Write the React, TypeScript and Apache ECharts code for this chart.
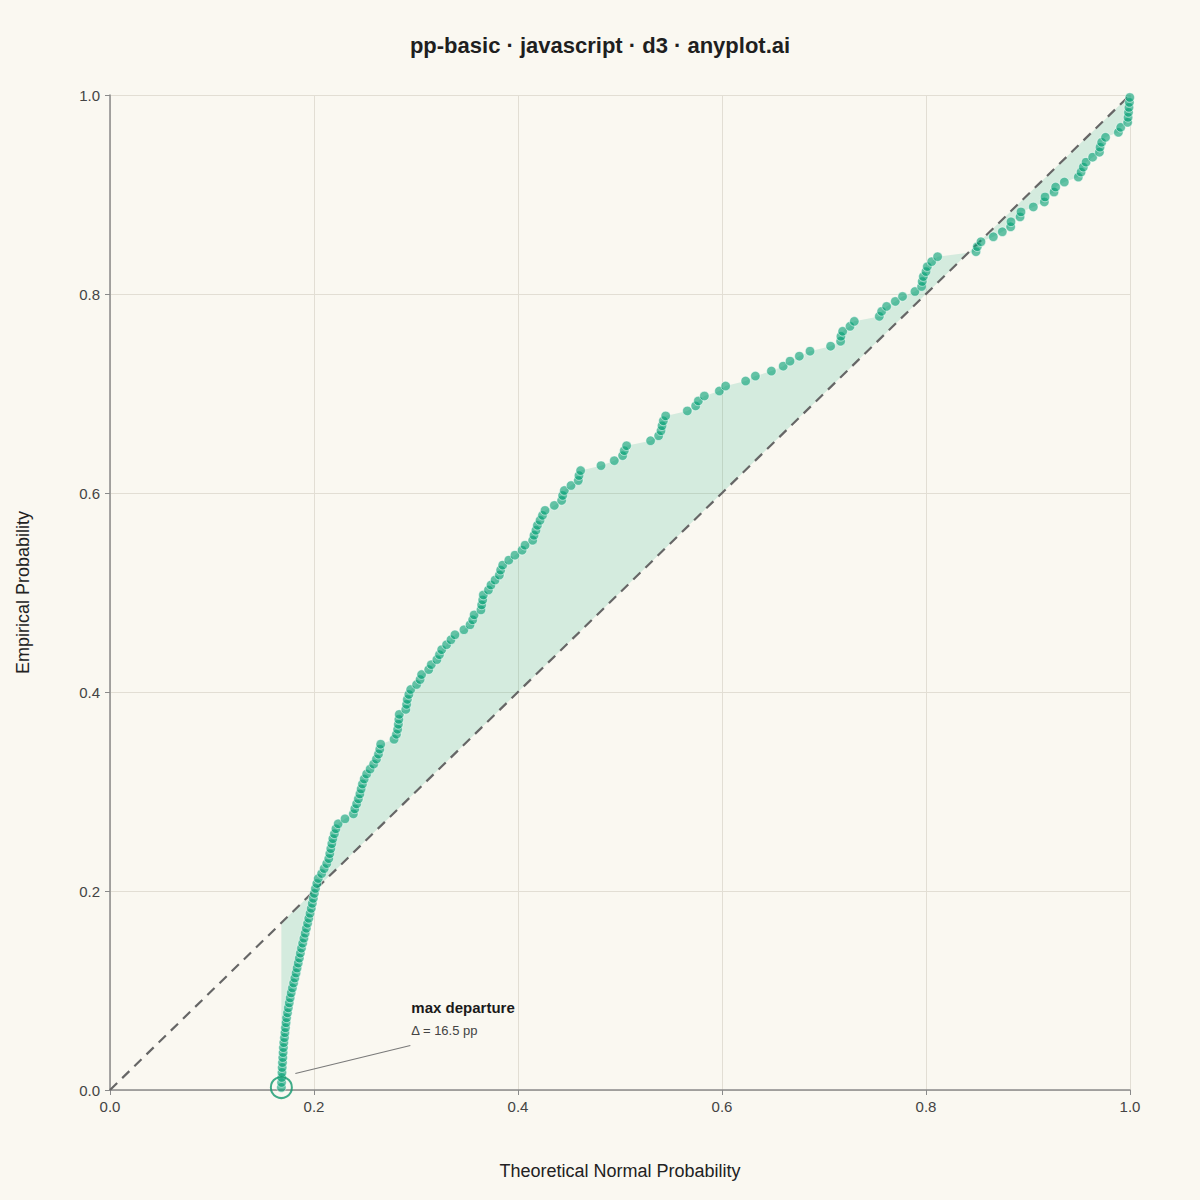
import React, { useEffect, useRef } from "react";
import * as echarts from "echarts";

const chartTitle = "pp-basic · javascript · d3 · anyplot.ai";
const xAxisName = "Theoretical Normal Probability";
const yAxisName = "Empirical Probability";
const tickValues = [0, 0.2, 0.4, 0.6, 0.8, 1.0];
const annotationTitle = "max departure";
const annotationValue = "Δ = 16.5 pp";

const theoretical = [
  0.1680, 0.1682, 0.1684, 0.1686, 0.1688, 0.1691, 0.1694, 0.1697, 0.1700, 0.1704,
  0.1710, 0.1715, 0.1720, 0.1726, 0.1731, 0.1740, 0.1748, 0.1757, 0.1766, 0.1776,
  0.1788, 0.1800, 0.1812, 0.1824, 0.1834, 0.1845, 0.1856, 0.1866, 0.1877, 0.1889,
  0.1901, 0.1913, 0.1925, 0.1937, 0.1949, 0.1961, 0.1973, 0.1983, 0.1993, 0.2003,
  0.2014, 0.2028, 0.2042, 0.2075, 0.2100, 0.2125, 0.2145, 0.2155, 0.2165, 0.2175,
  0.2185, 0.2200, 0.2215, 0.2237, 0.2304, 0.2386, 0.2400, 0.2418, 0.2435, 0.2450,
  0.2462, 0.2475, 0.2492, 0.2516, 0.2550, 0.2585, 0.2612, 0.2632, 0.2645, 0.2654,
  0.2785, 0.2808, 0.2820, 0.2827, 0.2832, 0.2836, 0.2900, 0.2908, 0.2915, 0.2930,
  0.2948, 0.3006, 0.3040, 0.3055, 0.3125, 0.3150, 0.3205, 0.3230, 0.3252, 0.3300,
  0.3343, 0.3382, 0.3470, 0.3530, 0.3556, 0.3570, 0.3637, 0.3644, 0.3654, 0.3660,
  0.3710, 0.3735, 0.3775, 0.3817, 0.3830, 0.3850, 0.3910, 0.3970, 0.4040, 0.4069,
  0.4144, 0.4157, 0.4176, 0.4190, 0.4216, 0.4240, 0.4265, 0.4356, 0.4428, 0.4438,
  0.4454, 0.4520, 0.4591, 0.4598, 0.4614, 0.4814, 0.4944, 0.5026, 0.5042, 0.5065,
  0.5300, 0.5379, 0.5402, 0.5412, 0.5425, 0.5448, 0.5660, 0.5742, 0.5768, 0.5827,
  0.5974, 0.6036, 0.6232, 0.6327, 0.6484, 0.6600, 0.6667, 0.6758, 0.6863, 0.7065,
  0.7163, 0.7166, 0.7183, 0.7255, 0.7297, 0.7542, 0.7565, 0.7614, 0.7699, 0.7770,
  0.7892, 0.7957, 0.7963, 0.7974, 0.8000, 0.8013, 0.8056, 0.8114, 0.8490, 0.8503,
  0.8539, 0.8660, 0.8748, 0.8830, 0.8833, 0.8922, 0.8931, 0.9052, 0.9160, 0.9167,
  0.9255, 0.9271, 0.9356, 0.9493, 0.9520, 0.9542, 0.9569, 0.9634, 0.9700, 0.9706,
  0.9722, 0.9760, 0.9886, 0.9909, 0.9977, 0.9981, 0.9985, 0.9990, 0.9994, 0.9998,
];

// Empirical probability of each sorted observation
const empirical = [
  0.0025, 0.0075, 0.0125, 0.0175, 0.0225, 0.0275, 0.0325, 0.0375, 0.0425, 0.0475,
  0.0525, 0.0575, 0.0625, 0.0675, 0.0725, 0.0775, 0.0825, 0.0875, 0.0925, 0.0975,
  0.1025, 0.1075, 0.1125, 0.1175, 0.1225, 0.1275, 0.1325, 0.1375, 0.1425, 0.1475,
  0.1525, 0.1575, 0.1625, 0.1675, 0.1725, 0.1775, 0.1825, 0.1875, 0.1925, 0.1975,
  0.2025, 0.2075, 0.2125, 0.2175, 0.2225, 0.2275, 0.2325, 0.2375, 0.2425, 0.2475,
  0.2525, 0.2575, 0.2625, 0.2675, 0.2725, 0.2775, 0.2825, 0.2875, 0.2925, 0.2975,
  0.3025, 0.3075, 0.3125, 0.3175, 0.3225, 0.3275, 0.3325, 0.3375, 0.3425, 0.3475,
  0.3525, 0.3575, 0.3625, 0.3675, 0.3725, 0.3775, 0.3825, 0.3875, 0.3925, 0.3975,
  0.4025, 0.4075, 0.4125, 0.4175, 0.4225, 0.4275, 0.4325, 0.4375, 0.4425, 0.4475,
  0.4525, 0.4575, 0.4625, 0.4675, 0.4725, 0.4775, 0.4825, 0.4875, 0.4925, 0.4975,
  0.5025, 0.5075, 0.5125, 0.5175, 0.5225, 0.5275, 0.5325, 0.5375, 0.5425, 0.5475,
  0.5525, 0.5575, 0.5625, 0.5675, 0.5725, 0.5775, 0.5825, 0.5875, 0.5925, 0.5975,
  0.6025, 0.6075, 0.6125, 0.6175, 0.6225, 0.6275, 0.6325, 0.6375, 0.6425, 0.6475,
  0.6525, 0.6575, 0.6625, 0.6675, 0.6725, 0.6775, 0.6825, 0.6875, 0.6925, 0.6975,
  0.7025, 0.7075, 0.7125, 0.7175, 0.7225, 0.7275, 0.7325, 0.7375, 0.7425, 0.7475,
  0.7525, 0.7575, 0.7625, 0.7675, 0.7725, 0.7775, 0.7825, 0.7875, 0.7925, 0.7975,
  0.8025, 0.8075, 0.8125, 0.8175, 0.8225, 0.8275, 0.8325, 0.8375, 0.8425, 0.8475,
  0.8525, 0.8575, 0.8625, 0.8675, 0.8725, 0.8775, 0.8825, 0.8875, 0.8925, 0.8975,
  0.9025, 0.9075, 0.9125, 0.9175, 0.9225, 0.9275, 0.9325, 0.9375, 0.9425, 0.9475,
  0.9525, 0.9575, 0.9625, 0.9675, 0.9725, 0.9775, 0.9825, 0.9875, 0.9925, 0.9975,
];

const referenceLine = [
  [0, 0],
  [1, 1],
];

const FONT = '"Liberation Sans", Arial, Helvetica, sans-serif';

export default function App() {
  const ref = useRef<HTMLDivElement>(null);

  useEffect(() => {
    document.body.style.margin = "0";
    if (!ref.current) return;
    const chart = echarts.init(ref.current, undefined, { renderer: "svg" });

    const points = theoretical.map((x, i) => [x, empirical[i]]);

    // point of maximum departure from the diagonal
    let maxIdx = 0;
    let maxDev = -1;
    theoretical.forEach((x, i) => {
      const d = Math.abs(x - empirical[i]);
      if (d > maxDev) {
        maxDev = d;
        maxIdx = i;
      }
    });
    const maxPoint = [theoretical[maxIdx], empirical[maxIdx]];

    const axisCommon = {
      type: "value" as const,
      min: 0,
      max: 1,
      interval: 0.2,
      axisLine: { show: true, lineStyle: { color: "#8a8a8a", width: 1.5 } },
      axisTick: { show: true, length: 5, lineStyle: { color: "#8a8a8a", width: 1 } },
      splitLine: { show: true, lineStyle: { color: "#e2ded4", width: 1 } },
      axisLabel: {
        fontSize: 15,
        color: "#444444",
        fontFamily: FONT,
        formatter: (v: number) =>
          tickValues.some((t) => Math.abs(t - v) < 1e-9) ? v.toFixed(1) : "",
      },
      nameLocation: "middle" as const,
      nameTextStyle: { fontSize: 18, color: "#222222", fontFamily: FONT },
    };

    chart.setOption({
      animation: false,
      backgroundColor: "#FAF8F1",
      title: {
        text: chartTitle,
        left: "center",
        top: 29,
        textStyle: { fontSize: 22, fontWeight: "bold", color: "#1f1f1f", fontFamily: FONT },
      },
      grid: {
        left: 110,
        right: 70,
        top: 95,
        bottom: 110,
        containLabel: false,
        outerBoundsMode: "none",
      },
      xAxis: {
        ...axisCommon,
        name: xAxisName,
        nameGap: 72,
        axisLabel: { ...axisCommon.axisLabel, margin: 9 },
      },
      yAxis: {
        ...axisCommon,
        name: yAxisName,
        nameGap: 78,
        axisLabel: { ...axisCommon.axisLabel, margin: 10 },
      },
      series: [
        {
          type: "custom",
          name: "departure",
          coordinateSystem: "cartesian2d",
          silent: true,
          z: 1,
          data: [[0.5, 0.5]],
          renderItem: (_params: any, api: any) => {
            const poly: number[][] = [];
            for (let i = 0; i < theoretical.length; i++) {
              poly.push(api.coord([theoretical[i], empirical[i]]));
            }
            for (let i = theoretical.length - 1; i >= 0; i--) {
              poly.push(api.coord([theoretical[i], theoretical[i]]));
            }
            return {
              type: "polygon",
              shape: { points: poly },
              style: { fill: "rgba(0,158,115,0.15)", stroke: "none" },
            };
          },
        },
        {
          type: "line",
          name: "reference",
          data: referenceLine,
          symbol: "none",
          silent: true,
          z: 2,
          lineStyle: { color: "#666666", width: 2.2, type: [10, 7] },
        },
        {
          type: "scatter",
          name: "observations",
          data: points,
          symbol: "circle",
          symbolSize: 9.5,
          z: 3,
          itemStyle: {
            color: "rgba(0,158,115,0.75)",
            borderColor: "rgba(255,255,255,0.85)",
            borderWidth: 0.8,
          },
        },
        {
          type: "scatter",
          name: "max departure",
          data: [maxPoint],
          symbol: "circle",
          symbolSize: 21,
          z: 4,
          silent: true,
          itemStyle: { color: "rgba(0,0,0,0)", borderColor: "#11996e", borderWidth: 2 },
        },
        {
          type: "custom",
          name: "annotation",
          coordinateSystem: "cartesian2d",
          silent: true,
          z: 5,
          data: [maxPoint],
          renderItem: (_params: any, api: any) => {
            const p = api.coord([api.value(0), api.value(1)]);
            return {
              type: "group",
              children: [
                {
                  type: "line",
                  shape: { x1: p[0] + 14, y1: p[1] - 14, x2: p[0] + 129, y2: p[1] - 42 },
                  style: { stroke: "#7a7a7a", lineWidth: 1.2 },
                },
                {
                  type: "text",
                  x: p[0] + 130,
                  y: p[1] - 80,
                  style: {
                    text: annotationTitle,
                    fill: "#1a1a1a",
                    fontSize: 15,
                    fontWeight: "bold",
                    fontFamily: FONT,
                    align: "left",
                    verticalAlign: "middle",
                  },
                },
                {
                  type: "text",
                  x: p[0] + 130,
                  y: p[1] - 57,
                  style: {
                    text: annotationValue,
                    fill: "#444444",
                    fontSize: 13,
                    fontFamily: FONT,
                    align: "left",
                    verticalAlign: "middle",
                  },
                },
              ],
            };
          },
        },
      ],
    });

    return () => chart.dispose();
  }, []);

  return <div ref={ref} style={{ width: 1200, height: 1200 }} />;
}
